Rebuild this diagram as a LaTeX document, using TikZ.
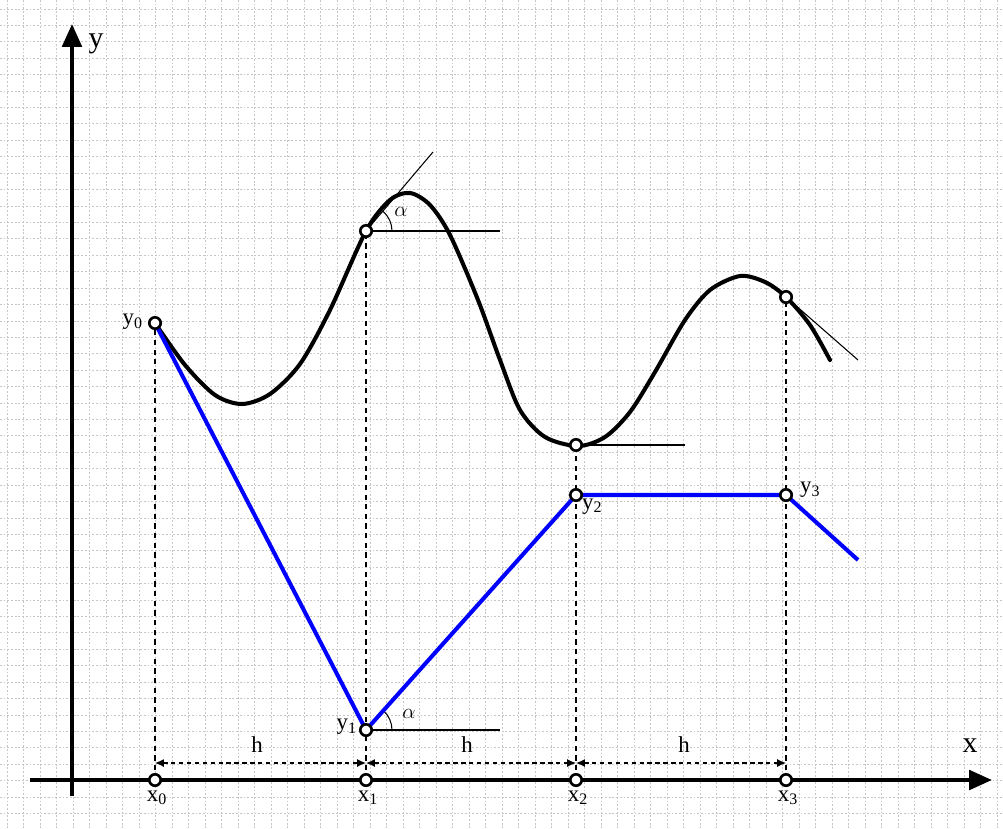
\documentclass[tikz,border=0pt]{standalone}
\usepackage{fontspec}
\setmainfont{Liberation Serif}
\usetikzlibrary{arrows.meta}
\begin{document}
\begin{tikzpicture}[x=0.02cm,y=-0.02cm,
  gridline/.style={gray!45,line width=0.55pt,dash pattern=on 1pt off 1.1pt},
  axis/.style={line width=2.3pt,-{Triangle[length=13pt,width=11pt]}},
  curve/.style={line width=2.3pt,line join=round,line cap=round},
  blueline/.style={blue,line width=2.3pt,line join=round},
  thinline/.style={line width=0.6pt},
  guide/.style={line width=0.8pt,dash pattern=on 3pt off 2.5pt},
  hdim/.style={line width=0.7pt,dash pattern=on 2.5pt off 2pt,{Latex[length=5pt,width=4.5pt]}-{Latex[length=5pt,width=4.5pt]}},
  pt/.style={circle,draw=black,fill=white,line width=1.5pt,inner sep=0pt,minimum size=6.5pt},
  lab/.style={font=\fontsize{13}{15}\selectfont,inner sep=1pt},
  axlab/.style={font=\fontsize{17}{19}\selectfont,inner sep=1pt}]
\useasboundingbox (0,0) rectangle (1003,828);
\fill[white] (0,0) rectangle (1003,828);
% grid
\foreach \k in {0,...,60} {\draw[gridline] ({7.3+16.5*\k},0) -- ({7.3+16.5*\k},828);}
\foreach \k in {0,...,50} {\draw[gridline] (0,{9+16.42*\k}) -- (1003,{9+16.42*\k});}
% coordinates
\coordinate (Y0) at (155,323);
\coordinate (C1) at (366,231);
\coordinate (Y1) at (366,730);
\coordinate (C2) at (576,445);
\coordinate (Y2) at (576,495);
\coordinate (C3) at (786,297);
\coordinate (Y3) at (786,495);
\coordinate (Bend) at (858,560);
\coordinate (X0) at (155,780);
\coordinate (X1) at (366,780);
\coordinate (X2) at (576,780);
\coordinate (X3) at (786,780);
\coordinate (XE) at (992,780);
\coordinate (XS) at (30,780);
\coordinate (YS) at (72,796);
\coordinate (YE) at (72,24);
\coordinate (T1) at (433,152);
\coordinate (H1) at (500,231);
\coordinate (H0) at (500,730);
\coordinate (H2) at (685,445);
\coordinate (T3) at (858,360);
% axes
\draw[axis] (XS) -- (XE);
\draw[axis] (YS) -- (YE);
\node[axlab] (ylab) at (96,44) {y};
\node[axlab] (xlab) at (970,746) {x};
% dashed guides
\draw[guide] (X0) -- (Y0);
\draw[guide] (X1) -- (C1);
\draw[guide] (X2) -- (C2);
\draw[guide] (X3) -- (C3);
% h dimensions
\coordinate (D0) at (155,763);
\coordinate (D1) at (366,763);
\coordinate (D2) at (576,763);
\coordinate (D3) at (786,763);
\draw[hdim] (D0) -- (D1);
\draw[hdim] (D1) -- (D2);
\draw[hdim] (D2) -- (D3);
\node[lab] (h1) at (257,745) {h};
\node[lab] (h2) at (467,745) {h};
\node[lab] (h3) at (684,745) {h};
% thin lines
\draw[thinline] (C1) -- (H1);
\draw[thinline] (C1) -- (T1);
\draw[thinline] (Y1) -- (H0);
\draw[thinline] (C2) -- (H2);
\draw[thinline] (C3) -- (T3);
\draw[thinline] (392,231) arc[start angle=0,end angle=-50,radius=26];
\draw[thinline] (392,730) arc[start angle=0,end angle=-48,radius=26];
\node[lab] (a1) at (401,212) {$\alpha$};
\node[lab] (a2) at (409,714) {$\alpha$};
% black curve
\draw[curve] plot[smooth,tension=0.5] coordinates {
(155,323) (185,365) (215,395) (242,404) (270,394) (300,364) (330,310)
(366,231) (390,200) (410,193) (430,205) (450,235) (478,300) (500,360)
(520,410) (545,437) (578,446) (605,437) (630,412) (655,372) (685,320)
(710,290) (740,276) (765,282) (786,297) (810,325) (830,360)};
% blue polyline
\draw[blueline] (Y0) -- (Y1) -- (Y2) -- (Y3) -- (Bend);
% points
\node[pt] (pY0) at (Y0) {};
\node[pt] (pC1) at (C1) {};
\node[pt] (pY1) at (Y1) {};
\node[pt] (pC2) at (C2) {};
\node[pt] (pY2) at (Y2) {};
\node[pt] (pC3) at (C3) {};
\node[pt] (pY3) at (Y3) {};
\node[pt] (pX0) at (X0) {};
\node[pt] (pX1) at (X1) {};
\node[pt] (pX2) at (X2) {};
\node[pt] (pX3) at (X3) {};
% labels
\node[lab,anchor=east] (ly0) at (145,322) {y\textsubscript{0}};
\node[lab,anchor=east] (ly1) at (359,727) {y\textsubscript{1}};
\node[lab,anchor=north west] (ly2) at (580,497) {y\textsubscript{2}};
\node[lab,anchor=west] (ly3) at (798,490) {y\textsubscript{3}};
\node[lab,anchor=north] (lx0) at (157,789) {x\textsubscript{0}};
\node[lab,anchor=north] (lx1) at (368,789) {x\textsubscript{1}};
\node[lab,anchor=north] (lx2) at (578,789) {x\textsubscript{2}};
\node[lab,anchor=north] (lx3) at (788,789) {x\textsubscript{3}};
\end{tikzpicture}
\end{document}
